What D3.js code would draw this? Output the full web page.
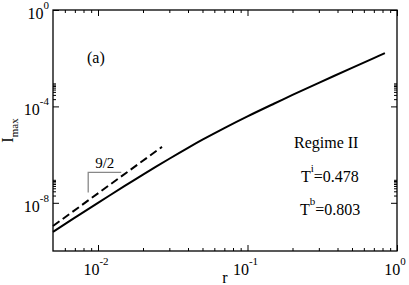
<!DOCTYPE html>
<html>
<head>
<meta charset="utf-8">
<script src="https://cdn.jsdelivr.net/npm/d3@7"></script>
<style>
body { margin: 0; background: #fff; }
.axis path.domain { display: none; }
.axis line { stroke: #000; }
</style>
</head>
<body>
<div id="chart"></div>
<script>
// solid curve, I_max against r
var rValues = [0.005, 0.007, 0.01, 0.015, 0.02, 0.03, 0.04, 0.05, 0.07, 0.1, 0.15, 0.2, 0.3, 0.5, 0.7, 0.83];
var iValues = [6.17e-10, 2.42e-9, 1.0e-8, 4.88e-8, 1.47e-7, 6.73e-7, 1.91e-6, 4.16e-6, 1.26e-5, 3.85e-5, 1.29e-4, 2.99e-4, 9.5e-4, 3.99e-3, 1.01e-2, 1.62e-2];

// dashed guide line (slope 9/2)
var dashR = [0.005, 0.0268];
var dashI = [1.09e-9, 2.09e-6];

// little gray slope marker
var triR = [0.0086, 0.0086, 0.0143];
var triI = [2.7e-8, 1.84e-7, 1.84e-7];

// ticks
var xMajor = [0.01, 0.1, 1];
var xTickLabels = ["-2", "-1", "0"];
var xMinor = [0.006, 0.007, 0.008, 0.009,
  0.02, 0.03, 0.04, 0.05, 0.06, 0.07, 0.08, 0.09,
  0.2, 0.3, 0.4, 0.5, 0.6, 0.7, 0.8, 0.9];
var yMajor = [1, 1e-4, 1e-8];
var yTickLabels = ["0", "-4", "-8"];
var yMinor = [2e-4, 3e-4, 4e-4, 5e-4, 6e-4, 7e-4, 8e-4, 9e-4,
  2e-8, 3e-8, 4e-8, 5e-8, 6e-8, 7e-8, 8e-8, 9e-8];

var serif = "'Liberation Serif', 'Times New Roman', Times, 'Nimbus Roman', 'DejaVu Serif', 'Noto Serif', serif";

var width = 409,
  height = 285,
  margin = { top: 10, right: 12, bottom: 34, left: 53 },
  plotW = width - margin.left - margin.right,
  plotH = height - margin.top - margin.bottom;

var x = d3.scaleLog().domain([0.005, 1]).range([margin.left, margin.left + plotW]);
var y = d3.scaleLog().domain([1e-10, 1]).range([margin.top + plotH, margin.top]);

var svg = d3.select("#chart").append("svg")
  .attr("width", width)
  .attr("height", height)
  .attr("font-family", serif)
  .style("display", "block");

// ticks, all pointing inward
function addAxis(axisFn, ticks, size, tx, ty) {
  svg.append("g")
    .attr("class", "axis")
    .attr("transform", "translate(" + tx + "," + ty + ")")
    .call(axisFn.tickValues(ticks).tickSize(-size).tickFormat(""));
}
addAxis(d3.axisBottom(x), xMajor, 6, 0, margin.top + plotH);
addAxis(d3.axisBottom(x), xMinor, 3, 0, margin.top + plotH);
addAxis(d3.axisTop(x), xMajor, 6, 0, margin.top);
addAxis(d3.axisTop(x), xMinor, 3, 0, margin.top);
addAxis(d3.axisLeft(y), yMajor, 6, margin.left, 0);
addAxis(d3.axisLeft(y), yMinor, 3, margin.left, 0);
addAxis(d3.axisRight(y), yMajor, 6, margin.left + plotW, 0);
addAxis(d3.axisRight(y), yMinor, 3, margin.left + plotW, 0);

svg.append("rect")
  .attr("x", margin.left)
  .attr("y", margin.top)
  .attr("width", plotW)
  .attr("height", plotH)
  .attr("fill", "none")
  .attr("stroke", "#000")
  .attr("stroke-width", 1.3);

function txt(xp, yp, size) {
  return svg.append("text")
    .attr("x", xp)
    .attr("y", yp)
    .style("font-family", serif)
    .style("font-size", size + "px");
}

// tick labels as 10^n
xMajor.forEach(function(v, i) {
  var t = txt(x(v) - 2, margin.top + plotH + 24, 16).attr("text-anchor", "middle");
  t.append("tspan").text("10");
  t.append("tspan").attr("dy", -10).style("font-size", "11px").text(xTickLabels[i]);
});

yMajor.forEach(function(v, i) {
  var t = txt(margin.left - 4, y(v) + 9, 16).attr("text-anchor", "end");
  t.append("tspan").text("10");
  t.append("tspan").attr("dy", -10).style("font-size", "11px").text(yTickLabels[i]);
});

// axis titles
txt(margin.left + plotW / 2, 283, 16).attr("text-anchor", "middle").text("r");

var yl = txt(0, 0, 16)
  .attr("transform", "translate(13," + (margin.top + plotH / 2) + ") rotate(-90)")
  .attr("text-anchor", "middle");
yl.append("tspan").text("I");
yl.append("tspan").attr("dy", 5).style("font-size", "11px").text("max");

// curves
var line = d3.line()
  .x(function(d) { return x(d[0]); })
  .y(function(d) { return y(d[1]); })
  .curve(d3.curveCatmullRom);

svg.append("path")
  .datum(d3.zip(rValues, iValues))
  .attr("d", line)
  .attr("fill", "none")
  .attr("stroke", "#000")
  .attr("stroke-width", 2);

var straight = d3.line().x(function(d) { return x(d[0]); }).y(function(d) { return y(d[1]); });

svg.append("path")
  .datum(d3.zip(dashR, dashI))
  .attr("d", straight)
  .attr("fill", "none")
  .attr("stroke", "#000")
  .attr("stroke-width", 2)
  .attr("stroke-dasharray", "8,4");

svg.append("path")
  .datum(d3.zip(triR, triI))
  .attr("d", straight)
  .attr("fill", "none")
  .attr("stroke", "#888")
  .attr("stroke-width", 1.3);

txt((x(triR[1]) + x(triR[2])) / 2, y(triI[1]) - 4, 15)
  .attr("text-anchor", "middle")
  .text("9/2");

// annotations
txt(87, 63, 16).text("(a)");
txt(294, 148, 16).text("Regime II");

var ti = txt(301, 182, 16);
ti.append("tspan").text("T");
ti.append("tspan").attr("dy", -10).style("font-size", "11px").text("i");
ti.append("tspan").attr("dy", 10).text("=0.478");

var tb = txt(300, 215, 16);
tb.append("tspan").text("T");
tb.append("tspan").attr("dy", -10).style("font-size", "11px").text("b");
tb.append("tspan").attr("dy", 10).text("=0.803");
</script>
</body>
</html>
